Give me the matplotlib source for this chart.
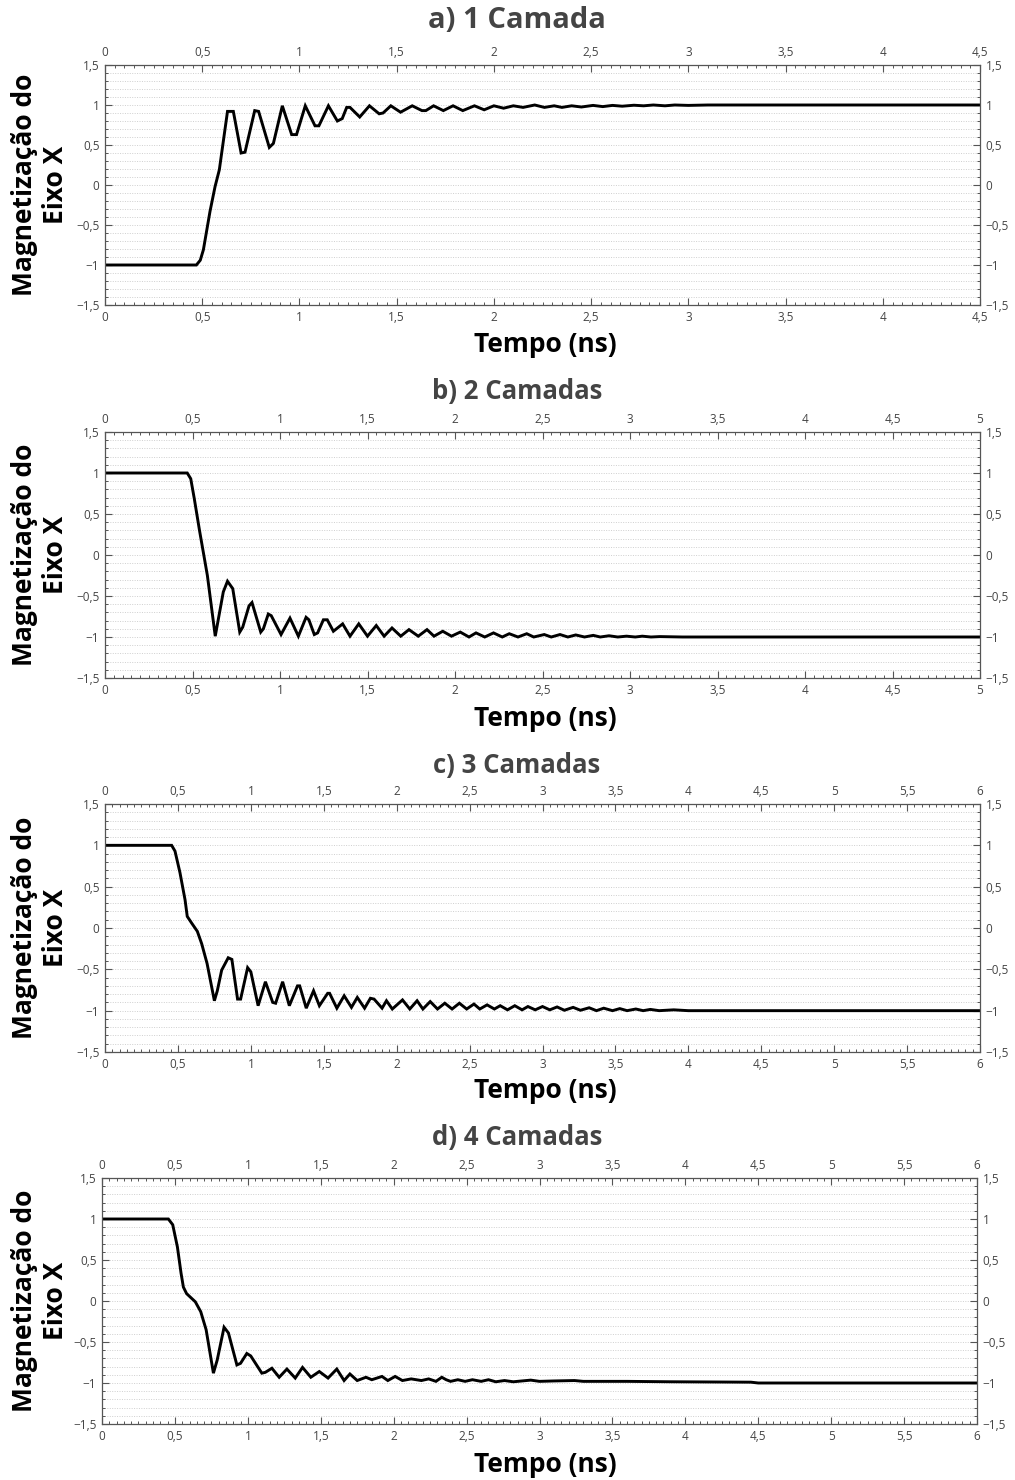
import matplotlib
matplotlib.use("Agg")
import matplotlib.pyplot as plt
from matplotlib.ticker import MultipleLocator, FuncFormatter

plt.rcParams['font.family'] = ['Open Sans', 'DejaVu Sans']

# ---- data ----
t_a = [0, 0.47, 0.49, 0.506, 0.54, 0.566, 0.588, 0.63, 0.66, 0.70, 0.72, 0.77, 0.79, 0.845, 0.866,
       0.912, 0.96, 0.985, 1.03, 1.08, 1.10, 1.149, 1.195, 1.22, 1.243, 1.26, 1.31, 1.36, 1.41, 1.43,
       1.47, 1.52, 1.58, 1.63, 1.65, 1.69, 1.74, 1.79, 1.84, 1.90, 1.95, 2.00, 2.05, 2.10, 2.15, 2.21,
       2.26, 2.31, 2.35, 2.40, 2.45, 2.51, 2.56, 2.61, 2.66, 2.72, 2.77, 2.82, 2.88, 2.93, 3.0, 3.1, 4.5]
m_a = [-1, -1, -0.94, -0.81, -0.33, -0.02, 0.19, 0.92, 0.92, 0.40, 0.41, 0.93, 0.92, 0.47, 0.52,
       0.99, 0.63, 0.63, 0.99, 0.74, 0.74, 0.99, 0.80, 0.83, 0.97, 0.97, 0.85, 0.99, 0.89, 0.90,
       0.99, 0.91, 0.99, 0.93, 0.93, 0.99, 0.93, 0.99, 0.93, 0.99, 0.94, 0.99, 0.96, 0.99, 0.97, 1.0,
       0.97, 0.99, 0.97, 0.99, 0.975, 0.995, 0.98, 0.995, 0.985, 0.997, 0.99, 1.0, 0.99, 1.0, 0.995, 1.0, 1.0]

t_b = [0, 0.47, 0.49, 0.51, 0.54, 0.585, 0.63, 0.676, 0.70, 0.73, 0.77, 0.787, 0.823, 0.84, 0.89,
       0.905, 0.933, 0.95, 1.006, 1.057, 1.105, 1.149, 1.165, 1.196, 1.215, 1.248, 1.27, 1.305, 1.358,
       1.40, 1.45, 1.50, 1.55, 1.595, 1.64, 1.69, 1.737, 1.79, 1.84, 1.88, 1.93, 1.98, 2.03, 2.08, 2.12,
       2.17, 2.22, 2.27, 2.31, 2.36, 2.41, 2.45, 2.51, 2.55, 2.60, 2.645, 2.69, 2.74, 2.79, 2.83, 2.88,
       2.93, 2.98, 3.03, 3.07, 3.12, 3.17, 3.3, 5.0]
m_b = [1, 1, 0.93, 0.69, 0.30, -0.25, -0.99, -0.45, -0.32, -0.41, -0.94, -0.88, -0.62, -0.58, -0.94,
       -0.90, -0.72, -0.74, -0.97, -0.77, -0.99, -0.76, -0.79, -0.97, -0.95, -0.79, -0.79, -0.93, -0.84,
       -0.99, -0.84, -0.99, -0.86, -0.99, -0.89, -0.99, -0.91, -0.99, -0.91, -0.99, -0.93, -0.99, -0.94, -1.0, -0.95,
       -1.0, -0.95, -1.0, -0.96, -1.0, -0.96, -1.0, -0.97, -1.0, -0.97, -1.0, -0.975, -1.0, -0.98, -1.0, -0.985,
       -1.0, -0.99, -1.0, -0.99, -1.0, -0.995, -1.0, -1.0]

t_c = [0, 0.457, 0.48, 0.514, 0.549, 0.564, 0.594, 0.633, 0.663, 0.70, 0.75, 0.77, 0.80, 0.845, 0.87,
       0.909, 0.93, 0.978, 1.0, 1.05, 1.10, 1.15, 1.17, 1.218, 1.264, 1.32, 1.335, 1.38, 1.43, 1.47,
       1.527, 1.54, 1.59, 1.64, 1.69, 1.73, 1.78, 1.82, 1.845, 1.90, 1.93, 1.97, 2.04, 2.09, 2.14, 2.18,
       2.23, 2.28, 2.33, 2.38, 2.43, 2.48, 2.53, 2.57, 2.62, 2.67, 2.71, 2.76, 2.81, 2.86, 2.90, 2.95,
       3.0, 3.05, 3.10, 3.15, 3.21, 3.26, 3.32, 3.37, 3.42, 3.48, 3.53, 3.58, 3.64, 3.69, 3.74, 3.80,
       3.90, 4.0, 6.0]
m_c = [1, 1, 0.93, 0.67, 0.34, 0.14, 0.06, -0.04, -0.19, -0.43, -0.88, -0.76, -0.51, -0.36, -0.38,
       -0.86, -0.86, -0.48, -0.53, -0.94, -0.65, -0.90, -0.91, -0.65, -0.94, -0.70, -0.70, -0.97, -0.76, -0.94,
       -0.79, -0.79, -0.97, -0.82, -0.96, -0.84, -0.97, -0.85, -0.86, -0.97, -0.88, -0.98, -0.87, -0.98, -0.88, -0.98,
       -0.89, -0.98, -0.91, -0.98, -0.91, -0.98, -0.92, -0.98, -0.93, -0.98, -0.94, -0.99, -0.94, -0.99, -0.95, -0.99,
       -0.95, -0.99, -0.955, -0.995, -0.96, -0.995, -0.965, -1.0, -0.97, -1.0, -0.975, -1.0, -0.98, -1.0, -0.985, -1.0,
       -0.99, -1.0, -1.0]

t_d = [0, 0.455, 0.485, 0.517, 0.542, 0.558, 0.58, 0.64, 0.677, 0.714, 0.764, 0.79, 0.837, 0.867, 0.925,
       0.95, 0.993, 1.02, 1.096, 1.12, 1.165, 1.215, 1.268, 1.325, 1.375, 1.432, 1.49, 1.55, 1.61, 1.66,
       1.70, 1.75, 1.81, 1.85, 1.92, 1.96, 2.01, 2.06, 2.12, 2.19, 2.24, 2.29, 2.33, 2.36, 2.39, 2.44,
       2.49, 2.54, 2.60, 2.65, 2.70, 2.76, 2.82, 2.94, 3.0, 3.1, 3.24, 3.3, 3.6, 3.9, 4.45, 4.5, 6.0]
m_d = [1, 1, 0.93, 0.66, 0.34, 0.17, 0.09, -0.01, -0.13, -0.35, -0.88, -0.72, -0.32, -0.39, -0.78,
       -0.76, -0.64, -0.67, -0.88, -0.87, -0.82, -0.93, -0.83, -0.94, -0.81, -0.93, -0.86, -0.94, -0.83, -0.97,
       -0.89, -0.97, -0.93, -0.96, -0.92, -0.97, -0.92, -0.97, -0.95, -0.97, -0.95, -0.98, -0.93, -0.96, -0.98, -0.96,
       -0.98, -0.96, -0.98, -0.96, -0.985, -0.97, -0.985, -0.965, -0.98, -0.975, -0.97, -0.98, -0.98, -0.985, -0.99, -1.0, -1.0]

titles = ["a) 1 Camada", "b) 2 Camadas", "c) 3 Camadas", "d) 4 Camadas"]
xmax = [4.5, 5, 6, 6]
series = [(t_a, m_a), (t_b, m_b), (t_c, m_c), (t_d, m_d)]
xlabel = "Tempo (ns)"
ylabel = "Magnetização do\nEixo X"

W, H = 1015, 1480
fig = plt.figure(figsize=(W / 100, H / 100), dpi=100)

# axes boxes in pixels: left, top, right, bottom
boxes = [(105, 65, 980, 305), (105, 432, 980, 678), (105, 804, 980, 1052), (102, 1178, 977, 1424)]
title_y = [21, 392, 765, 1138]
title_size = [21, 18.5, 18.5, 18.5]
xlabel_y = [345, 718, 1091, 1465]


def fmt(v, pos):
    s = ('%.1f' % v).rstrip('0').rstrip('.')
    if s in ('-0',):
        s = '0'
    return s.replace('.', ',').replace('-', '\u2212')


for i, (l, t, r, b) in enumerate(boxes):
    ax = fig.add_axes([l / W, 1 - b / H, (r - l) / W, (b - t) / H])
    tt, mm = series[i]
    ax.plot(tt, mm, color='black', lw=2.1, solid_joinstyle='miter')
    ax.set_xlim(0, xmax[i])
    ax.set_ylim(-1.5, 1.5)
    ax.xaxis.set_major_locator(MultipleLocator(0.5))
    ax.xaxis.set_minor_locator(MultipleLocator(0.05))
    ax.yaxis.set_major_locator(MultipleLocator(0.5))
    ax.yaxis.set_minor_locator(MultipleLocator(0.1))
    ax.xaxis.set_major_formatter(FuncFormatter(fmt))
    ax.yaxis.set_major_formatter(FuncFormatter(fmt))
    ax.tick_params(which='both', direction='in', top=True, right=True,
                   labeltop=True, labelright=True, colors='#555555',
                   labelsize=8.5, labelcolor='#444444')
    ax.tick_params(which='major', length=5, width=0.8, pad=4)
    ax.tick_params(which='minor', length=2.5, width=0.7)
    ax.yaxis.grid(True, which='both', linestyle=(0, (1, 1.5)), color='#cfcfcf', lw=0.7)
    ax.set_axisbelow(True)
    for sp in ax.spines.values():
        sp.set_color('#555555')
        sp.set_linewidth(0.9)
    fig.text(517 / W, 1 - title_y[i] / H, titles[i], ha='center', va='center',
             fontsize=title_size[i], fontweight='bold', color='#444444')
    fig.text(545 / W, 1 - xlabel_y[i] / H, xlabel, ha='center', va='center',
             fontsize=19, fontweight='bold', color='black')
    fig.text(40 / W, 1 - (t + b) / 2 / H, ylabel, ha='center', va='center', rotation=90,
             multialignment='center', fontsize=19, fontweight='bold', color='black',
             linespacing=1.2)

fig.savefig('out.png', dpi=100, facecolor='white')
